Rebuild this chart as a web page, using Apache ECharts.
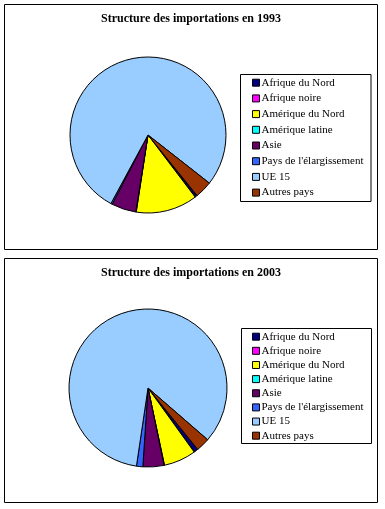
<!DOCTYPE html>
<html><head><meta charset="utf-8">
<script src="https://cdn.jsdelivr.net/npm/echarts@6/dist/echarts.min.js"></script>
<style>html,body{margin:0;padding:0;background:#fff}#c{width:385px;height:509px}</style>
</head><body><div id="c"></div>
<script>
const categories = ["Afrique du Nord","Afrique noire","Amérique du Nord","Amérique latine","Asie","Pays de l'élargissement","UE 15","Autres pays"];
const colors = ["#000080","#FF00FF","#FFFF00","#00FFFF","#660066","#3366FF","#99CCFF","#993300"];
const values1993 = [0.4, 0.1, 12.8, 0.1, 5.1, 0.3, 78.0, 3.6];
const values2003 = [0.8, 0.1, 6.6, 0.1, 4.3, 1.3, 84.2, 2.8];
const titles = ["Structure des importations en 1993","Structure des importations en 2003"];

const font = "'Liberation Serif', 'Times New Roman', serif";
const mk = vals => vals.map((v,i)=>({name:categories[i], value:v, itemStyle:{color:colors[i]}}));

const chart = echarts.init(document.getElementById('c'), null, {renderer:'canvas'});
function legendCfg(top, lh, gap){
  return {
    orient:'vertical', left:241, top:top, padding:[0,4,0,11],
    itemWidth:7, itemHeight:7, itemGap:gap, icon:'rect',
    itemStyle:{borderColor:'#000', borderWidth:1},
    textStyle:{fontFamily:font, fontSize:11, color:'#000', lineHeight:lh, padding:[0,0,0,-3]},
    selectedMode:false, data:categories
  };
}
chart.setOption({
  animation:false,
  title:[
    {text:titles[0], left:191, top:13, textAlign:'center', padding:0,
     textStyle:{fontFamily:font, fontSize:12, fontWeight:'bold', color:'#000'}},
    {text:titles[1], left:191, top:267, textAlign:'center', padding:0,
     textStyle:{fontFamily:font, fontSize:12, fontWeight:'bold', color:'#000'}}
  ],
  legend:[ legendCfg(75.7, 14, 1.7), legendCfg(330.2, 13, 1.14) ],
  graphic:[
    {type:'rect', shape:{x:4.5,y:4.5,width:373,height:245}, style:{fill:null, stroke:'#000', lineWidth:1}},
    {type:'rect', shape:{x:4.5,y:258.5,width:373,height:244}, style:{fill:null, stroke:'#000', lineWidth:1}},
    {type:'rect', shape:{x:240.5,y:74.5,width:130.5,height:127}, style:{fill:null, stroke:'#000', lineWidth:1}},
    {type:'rect', shape:{x:241.5,y:328.5,width:130,height:115}, style:{fill:null, stroke:'#000', lineWidth:1}}
  ],
  series:[
    {type:'pie', center:[148,135], radius:78, startAngle:-51, clockwise:true,
     label:{show:false}, labelLine:{show:false}, emphasis:{disabled:true},
     itemStyle:{borderColor:'#000', borderWidth:1}, data:mk(values1993)},
    {type:'pie', center:[148,388], radius:79, startAngle:-51, clockwise:true,
     label:{show:false}, labelLine:{show:false}, emphasis:{disabled:true},
     itemStyle:{borderColor:'#000', borderWidth:1}, data:mk(values2003)}
  ]
});
</script></body></html>
